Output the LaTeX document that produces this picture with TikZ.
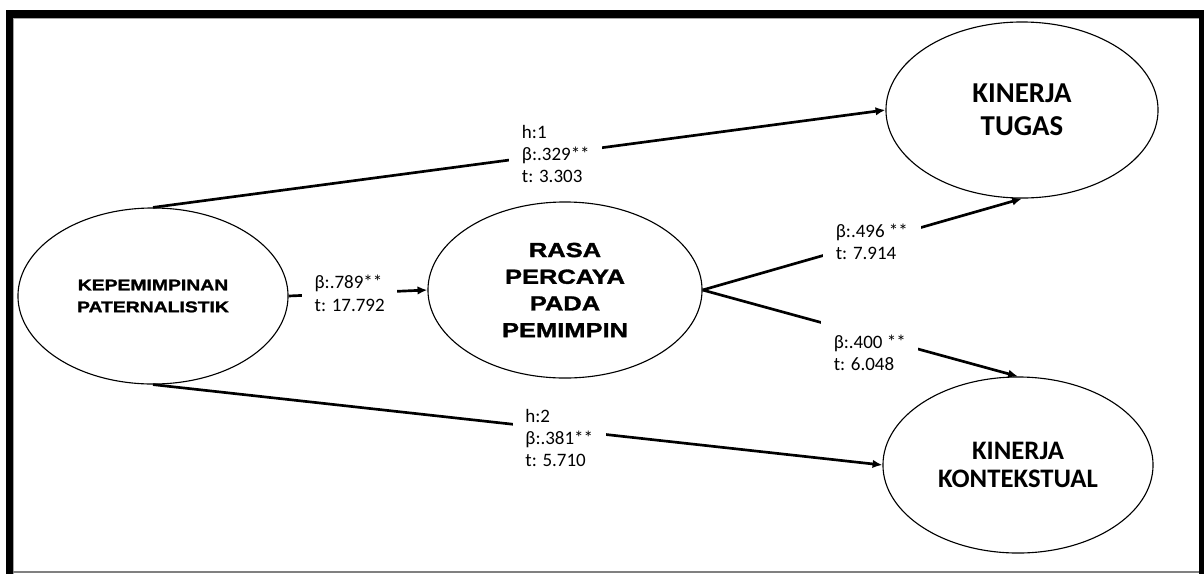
\documentclass[tikz,border=0pt]{standalone}
\usepackage{fontspec}
\setmainfont{Carlito}
\newfontfamily\heavyfont{Liberation Sans Bold}[FakeBold=1.6, FakeStretch=1.25]
\usetikzlibrary{shapes.geometric,arrows.meta}
\tikzset{
	konstruk/.style={ellipse, draw, line width=0.8pt, minimum width=6.8cm, minimum height=4.4cm, align=center, inner sep=0pt},
	jalur/.style={line width=1.9pt, -{Latex[length=7pt,width=6pt]}},
	koef/.style={fill=white, align=left, inner xsep=9pt, inner ysep=3pt, font=\fontsize{13.5}{15.8}\selectfont}
}
\begin{document}
\begin{tikzpicture}[x=0.025cm, y=-0.025cm]
	\useasboundingbox (0,0) rectangle (1204,574);
	% frame
	\fill[black] (6,10) rectangle (13,574);
	\fill[black] (6,10) rectangle (1204,18);
	\fill[black] (1199,10) rectangle (1204,574);
	\draw[gray!70, line width=0.6pt] (13.6,574) -- (13.6,18.6) -- (1199,18.6);
	\draw[gray, line width=1pt] (13,572) -- (1199,572);
	% constructs
	\node[konstruk, minimum width=6.75cm, font=\heavyfont\fontsize{11}{15.6}\selectfont] (kp) at (153,296) {KEPEMIMPINAN\\PATERNALISTIK};
	\node[konstruk, minimum width=6.85cm, font=\heavyfont\fontsize{14.5}{19}\selectfont] (rasa) at (565,290) {RASA\\PERCAYA\\PADA\\PEMIMPIN};
	\node[konstruk, font=\bfseries\fontsize{20.5}{23.6}\selectfont] (tugas) at (1022,110) {KINERJA\\TUGAS};
	\node[konstruk, minimum width=6.75cm, font=\bfseries\fontsize{19}{19.8}\selectfont] (konteks) at (1018,465) {KINERJA\\KONTEKSTUAL};
	% paths
	\draw[jalur] (kp.north) -- node[koef, pos=0.55] {h:1\\β:.329**\\t: 3.303} (tugas.west);
	\draw[jalur] (kp.south) -- node[koef, pos=0.557, yshift=-6pt] {h:2\\β:.381**\\t: 5.710} (konteks.west);
	\draw[jalur] (kp.east) -- node[koef, pos=0.44] {β:.789**\\t: 17.792} (rasa.west);
	\draw[jalur] (rasa.east) -- node[koef, pos=0.53] {β:.496 **\\t: 7.914} (tugas.south);
	\draw[jalur] (rasa.east) -- node[koef, pos=0.53, yshift=-12pt, inner ysep=10pt] {β:.400 **\\t: 6.048} (konteks.north);
\end{tikzpicture}
\end{document}
